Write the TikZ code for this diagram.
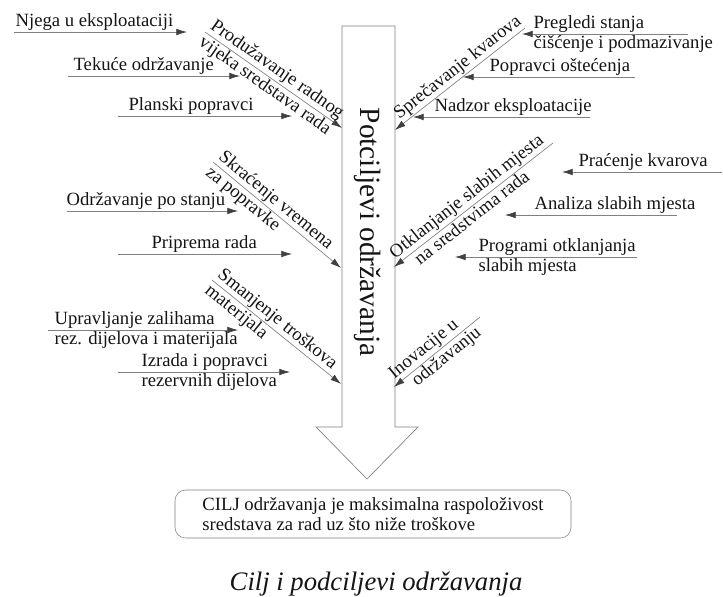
\documentclass[tikz,border=0pt]{standalone}
\usepackage{fontspec}
\setmainfont{Liberation Serif}
\usetikzlibrary{arrows.meta}

\begin{document}
\begin{tikzpicture}[x=0.75pt,y=-0.75pt,
  every path/.style={>={Latex[length=8pt,width=5pt,color=black!75]}},
  lbl/.style={font=\fontsize{14}{15}\selectfont,text=black!92,inner sep=1pt},
  line/.style={draw=black!50,line width=0.5pt}]
\useasboundingbox (0,0) rectangle (723,596);

% big arrow
\draw[line] (342,26) -- (395,26) -- (395,427) -- (418,427) -- (367,479)
  -- (316,427) -- (342,427) -- cycle;
\node[font=\fontsize{22}{24}\selectfont,text=black!92,rotate=-90] (sub) at (368,232) {Potciljevi održavanja};

% goal and caption
\node[draw=black!50,rounded corners=8pt,minimum width=297pt,minimum height=36pt,
  align=left,lbl] (goal) at (373,514)
  {CILJ održavanja je maksimalna raspoloživost\\sredstava za rad uz što niže troškove};
\node[font=\fontsize{20}{22}\selectfont\itshape,text=black!92] (cap) at (376,584) {Cilj i podciljevi održavanja};

% left branches
\coordinate (b1s) at (205,32);  \coordinate (b1t) at (342,128);
\coordinate (b2s) at (213,162); \coordinate (b2t) at (341,268);
\coordinate (b3s) at (212,280); \coordinate (b3t) at (341,384);
\draw[line,->] (b1s) -- node[lbl,sloped,pos=0,anchor=south west] (b1a) {Produžavanje radnog}
  node[lbl,sloped,pos=0,anchor=north west] (b1b) {vijeka sredstava rada} (b1t);
\draw[line,->] (b2s) -- node[lbl,sloped,pos=0,anchor=south west] (b2a) {Skraćenje vremena}
  node[lbl,sloped,pos=0,anchor=north west] (b2b) {za popravke} (b2t);
\draw[line,->] (b3s) -- node[lbl,sloped,pos=0,anchor=south west] (b3a) {Smanjenje troškova}
  node[lbl,sloped,pos=0,anchor=north west] (b3b) {materijala} (b3t);

% right branches
\coordinate (c1s) at (525,28);  \coordinate (c1t) at (395,130);
\coordinate (c2s) at (553,143); \coordinate (c2t) at (394,267);
\coordinate (c3s) at (480,317); \coordinate (c3t) at (394,387);
\draw[line,<-] (c1t) -- node[lbl,sloped,pos=0.05,anchor=south west] (c1a) {Sprečavanje kvarova} (c1s);
\draw[line,<-] (c2t) -- node[lbl,sloped,pos=0.02,anchor=south west] (c2a) {Otklanjanje slabih mjesta}
  node[lbl,sloped,pos=0.1,anchor=north west] (c2b) {na sredstvima rada} (c2s);
\draw[line,<-] (c3t) -- node[lbl,sloped,pos=0.03,anchor=south west] (c3a) {Inovacije u}
  node[lbl,sloped,pos=0.15,anchor=north west] (c3b) {održavanju} (c3s);

% inputs, left
\coordinate (l1s) at (14,32);  \coordinate (l1t) at (187,32);
\coordinate (l2s) at (68,76);  \coordinate (l2t) at (240,76);
\coordinate (l3s) at (118,116); \coordinate (l3t) at (292,116);
\coordinate (l4s) at (67,211); \coordinate (l4t) at (238,211);
\coordinate (l5s) at (118,254); \coordinate (l5t) at (292,254);
\coordinate (l6s) at (48,330); \coordinate (l6t) at (238,330);
\coordinate (l7s) at (118,372); \coordinate (l7t) at (290,372);
\node[lbl,anchor=south west] (l1) at (14,32)  {Njega u eksploataciji};
\node[lbl,anchor=south west] (l2) at (72,76)  {Tekuće održavanje};
\node[lbl,anchor=south west] (l3) at (127,116) {Planski popravci};
\node[lbl,anchor=south west] (l4) at (65,211) {Održavanje po stanju};
\node[lbl,anchor=south west] (l5) at (150,254) {Priprema rada};
\node[lbl,anchor=south west] (l6) at (53,330) {Upravljanje zalihama};
\node[lbl,anchor=north west] (l6b) at (53,330) {rez. dijelova i materijala};
\node[lbl,anchor=south west] (l7) at (140,372) {Izrada i popravci};
\node[lbl,anchor=north west] (l7b) at (140,372) {rezervnih dijelova};
\foreach \i in {1,...,7}
  \draw[line,->] (l\i s) -- (l\i t);

% inputs, right
\coordinate (r1s) at (688,34);  \coordinate (r1t) at (522,34);
\coordinate (r2s) at (635,77);  \coordinate (r2t) at (463,77);
\coordinate (r3s) at (590,117); \coordinate (r3t) at (413,117);
\coordinate (r4s) at (722,172); \coordinate (r4t) at (562,172);
\coordinate (r5s) at (677,215); \coordinate (r5t) at (505,215);
\coordinate (r6s) at (637,257); \coordinate (r6t) at (455,257);
\node[lbl,anchor=south west] (r1) at (532,34)  {Pregledi stanja};
\node[lbl,anchor=north west] (r1b) at (532,34) {čišćenje i podmazivanje};
\node[lbl,anchor=south west] (r2) at (488,77)  {Popravci oštećenja};
\node[lbl,anchor=south west] (r3) at (433,117) {Nadzor eksploatacije};
\node[lbl,anchor=south west] (r4) at (577,172) {Praćenje kvarova};
\node[lbl,anchor=south west] (r5) at (533,215) {Analiza slabih mjesta};
\node[lbl,anchor=south west] (r6) at (477,257) {Programi otklanjanja};
\node[lbl,anchor=north west] (r6b) at (477,257) {slabih mjesta};
\foreach \i in {1,...,6}
  \draw[line,->] (r\i s) -- (r\i t);
\end{tikzpicture}
\end{document}
